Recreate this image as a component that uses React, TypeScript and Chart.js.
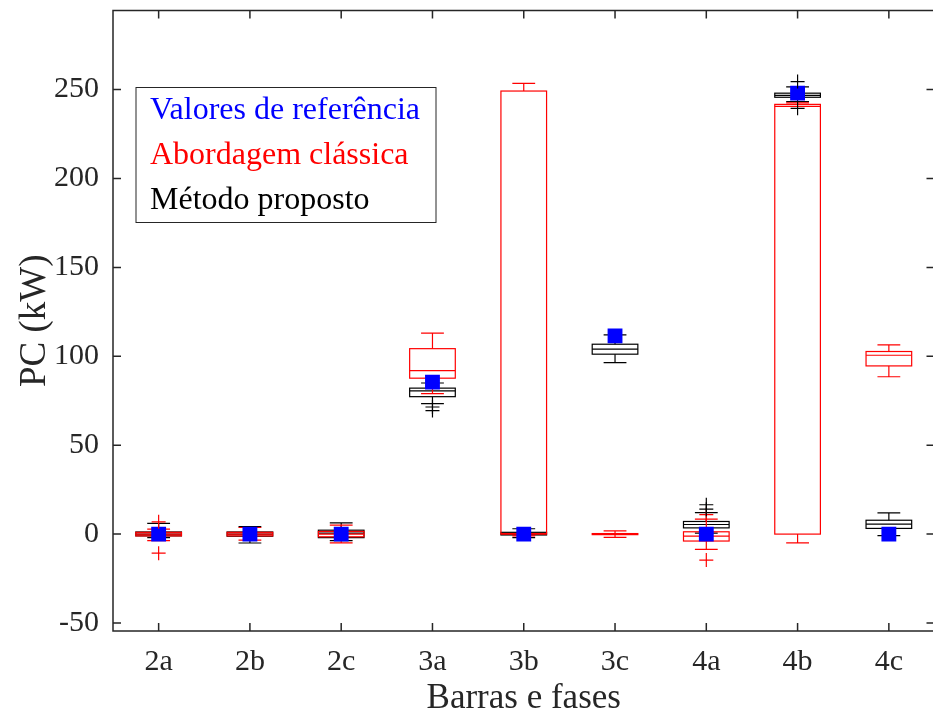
import React, { useEffect, useRef } from "react";
import { Chart, registerables } from "chart.js";

Chart.register(...registerables);

const categories = ["2a", "2b", "2c", "3a", "3b", "3c", "4a", "4b", "4c"];
const yTickValues = [-50, 0, 50, 100, 150, 200, 250];

const referenceValues = [0, 0, 0, 85.5, 0, 111.5, 0, 248, 0];

// Abordagem clássica (red)
const classicMin = [-3.7, -3.4, -4.9, 79, -1, -1.8, -8.6, -4.9, 88.5];
const classicQ1 = [-1, -1, -1.5, 87.7, 0, -0.3, -3.9, 0, 94.6];
const classicMedian = [0, 0, 0, 92, 0.3, 0, -1.1, 240.6, 100.6];
const classicQ3 = [1, 1, 1.5, 104.3, 249.2, 0.3, 1.3, 241.7, 102.7];
const classicMax = [2.8, 3.7, 5, 113, 253.5, 1.8, 8.4, 242.5, 106.4];
const classicOutliers = [[6.9, -10.7], [], [], [], [], [], [11, -14.6], [], []];

// Método proposto (black)
const proposedMin = [-2, -5, -3.7, 73.4, -2, 96.5, 0.5, 243.3, -0.9];
const proposedQ1 = [-1, -1.2, -2, 77.3, -0.5, 101.2, 3.5, 245.7, 3.2];
const proposedMedian = [0, 0, 0.5, 80.6, 0, 104, 5.4, 246.8, 5.6];
const proposedQ3 = [1.2, 1.2, 2.2, 82.1, 1, 106.8, 7.1, 248, 7.8];
const proposedMax = [6, 4.2, 6.3, 85, 3, 112, 12.1, 251.5, 11.9];
const proposedOutliers = [[], [], [], [69.5, 71.5], [], [], [14, 16.5], [254.5, 239.5], []];

const legendItems = [
  { text: "Valores de referência", color: "#0000ff" },
  { text: "Abordagem clássica", color: "#ff0000" },
  { text: "Método proposto", color: "#000000" },
];

const FONT = "'Liberation Serif', 'Times New Roman', serif";
const AXIS = "#262626";

type BoxSeries = {
  color: string;
  min: number[];
  q1: number[];
  med: number[];
  q3: number[];
  max: number[];
};

const boxSeries: BoxSeries[] = [
  { color: "#000000", min: proposedMin, q1: proposedQ1, med: proposedMedian, q3: proposedQ3, max: proposedMax },
  { color: "#ff0000", min: classicMin, q1: classicQ1, med: classicMedian, q3: classicQ3, max: classicMax },
];

const outlierPoints = (arr: number[][]) =>
  arr.flatMap((vals, i) => vals.map((v) => ({ x: i + 1, y: v })));

const boxPlugin = {
  id: "boxes",
  beforeDatasetsDraw(chart: any) {
    const { ctx, chartArea, scales } = chart;
    const xs = scales.x;
    const ys = scales.y;
    ctx.save();
    ctx.beginPath();
    ctx.rect(chartArea.left, chartArea.top, chartArea.right - chartArea.left, chartArea.bottom - chartArea.top);
    ctx.clip();
    ctx.lineWidth = 1.2;
    boxSeries.forEach((s) => {
      ctx.strokeStyle = s.color;
      categories.forEach((_, i) => {
        const cx = xs.getPixelForValue(i + 1);
        const half = xs.getPixelForValue(1.25) - xs.getPixelForValue(1);
        const capHalf = half / 2;
        const yMin = ys.getPixelForValue(s.min[i]);
        const yQ1 = ys.getPixelForValue(s.q1[i]);
        const yMed = ys.getPixelForValue(s.med[i]);
        const yQ3 = ys.getPixelForValue(s.q3[i]);
        const yMax = ys.getPixelForValue(s.max[i]);
        ctx.beginPath();
        ctx.moveTo(cx, yQ3);
        ctx.lineTo(cx, yMax);
        ctx.moveTo(cx, yQ1);
        ctx.lineTo(cx, yMin);
        ctx.moveTo(cx - capHalf, yMax);
        ctx.lineTo(cx + capHalf, yMax);
        ctx.moveTo(cx - capHalf, yMin);
        ctx.lineTo(cx + capHalf, yMin);
        ctx.moveTo(cx - half, yMed);
        ctx.lineTo(cx + half, yMed);
        ctx.stroke();
        ctx.strokeRect(cx - half, yQ3, 2 * half, yQ1 - yQ3);
      });
    });
    ctx.restore();
  },
  afterDraw(chart: any) {
    const { ctx, chartArea, scales } = chart;
    const { left, right, top, bottom } = chartArea;
    ctx.save();
    ctx.strokeStyle = AXIS;
    ctx.lineWidth = 1.5;
    ctx.strokeRect(left, top, right - left, bottom - top);
    const tl = 8;
    ctx.beginPath();
    scales.x.ticks.forEach((t: any) => {
      const x = scales.x.getPixelForValue(t.value);
      ctx.moveTo(x, bottom);
      ctx.lineTo(x, bottom - tl);
      ctx.moveTo(x, top);
      ctx.lineTo(x, top + tl);
    });
    scales.y.ticks.forEach((t: any) => {
      const y = scales.y.getPixelForValue(t.value);
      ctx.moveTo(left, y);
      ctx.lineTo(left + tl, y);
      ctx.moveTo(right, y);
      ctx.lineTo(right - tl, y);
    });
    ctx.stroke();

    // legend
    const lx = left + 23;
    const ly = top + 77;
    const lw = 300;
    const lh = 135;
    ctx.fillStyle = "#ffffff";
    ctx.fillRect(lx, ly, lw, lh);
    ctx.lineWidth = 1;
    ctx.strokeStyle = AXIS;
    ctx.strokeRect(lx, ly, lw, lh);
    ctx.font = `32px ${FONT}`;
    ctx.textBaseline = "alphabetic";
    ctx.textAlign = "left";
    legendItems.forEach((item, k) => {
      ctx.fillStyle = item.color;
      ctx.fillText(item.text, lx + 14, ly + 31 + k * 45);
    });
    ctx.restore();
  },
};

export default function App() {
  const canvasRef = useRef<HTMLCanvasElement | null>(null);

  useEffect(() => {
    if (!canvasRef.current) return;
    const chart = new Chart(canvasRef.current, {
      type: "scatter",
      data: {
        datasets: [
          {
            label: "Método proposto outliers",
            data: outlierPoints(proposedOutliers),
            pointStyle: "cross",
            pointRadius: 7,
            borderColor: "#000000",
            backgroundColor: "#000000",
            borderWidth: 1.2,
          },
          {
            label: "Abordagem clássica outliers",
            data: outlierPoints(classicOutliers),
            pointStyle: "cross",
            pointRadius: 7,
            borderColor: "#ff0000",
            backgroundColor: "#ff0000",
            borderWidth: 1.2,
          },
          {
            label: "Valores de referência",
            data: referenceValues.map((v, i) => ({ x: i + 1, y: v })),
            pointStyle: "rect",
            pointRadius: 10.5,
            borderWidth: 0,
            borderColor: "#0000ff",
            backgroundColor: "#0000ff",
          },
        ],
      },
      options: {
        animation: false,
        responsive: false,
        devicePixelRatio: 1,
        layout: { padding: { top: 9, right: 8, left: 0, bottom: 0 } },
        plugins: { legend: { display: false }, tooltip: { enabled: false } },
        scales: {
          x: {
            type: "linear",
            min: 0.5,
            max: 9.5,
            grid: { display: false, drawTicks: false, tickLength: 0 },
            border: { display: false },
            afterBuildTicks: (scale: any) => {
              scale.ticks = categories.map((_, i) => ({ value: i + 1 }));
            },
            afterFit: (scale: any) => {
              scale.height = 89;
              scale.paddingLeft = 0;
              scale.paddingRight = 0;
            },
            ticks: {
              autoSkip: false,
              maxRotation: 0,
              padding: 13,
              color: AXIS,
              font: { family: FONT, size: 30 },
              callback: (v: any) => categories[Math.round(Number(v)) - 1] ?? "",
            },
            title: {
              display: true,
              text: "Barras e fases",
              color: AXIS,
              font: { family: FONT, size: 35 },
              padding: { top: 0, bottom: 0 },
            },
          },
          y: {
            type: "linear",
            min: -54.5,
            max: 294.5,
            grid: { display: false, drawTicks: false, tickLength: 0 },
            border: { display: false },
            afterBuildTicks: (scale: any) => {
              scale.ticks = yTickValues.map((v) => ({ value: v }));
            },
            afterFit: (scale: any) => {
              scale.width = 113;
              scale.paddingTop = 0;
              scale.paddingBottom = 0;
            },
            ticks: {
              padding: 14,
              color: AXIS,
              font: { family: FONT, size: 30 },
              callback: (v: any) => String(v),
            },
            title: {
              display: true,
              text: "PC (kW)",
              color: AXIS,
              font: { family: FONT, size: 37 },
              padding: { top: 13, bottom: 0 },
            },
          },
        },
      },
      plugins: [boxPlugin],
    });
    return () => chart.destroy();
  }, []);

  return (
    <div style={{ position: "fixed", left: 0, top: 0, width: 933, height: 720, overflow: "hidden", background: "#fff" }}>
      <canvas ref={canvasRef} width={945} height={720} style={{ display: "block", width: 945, height: 720 }} />
    </div>
  );
}
